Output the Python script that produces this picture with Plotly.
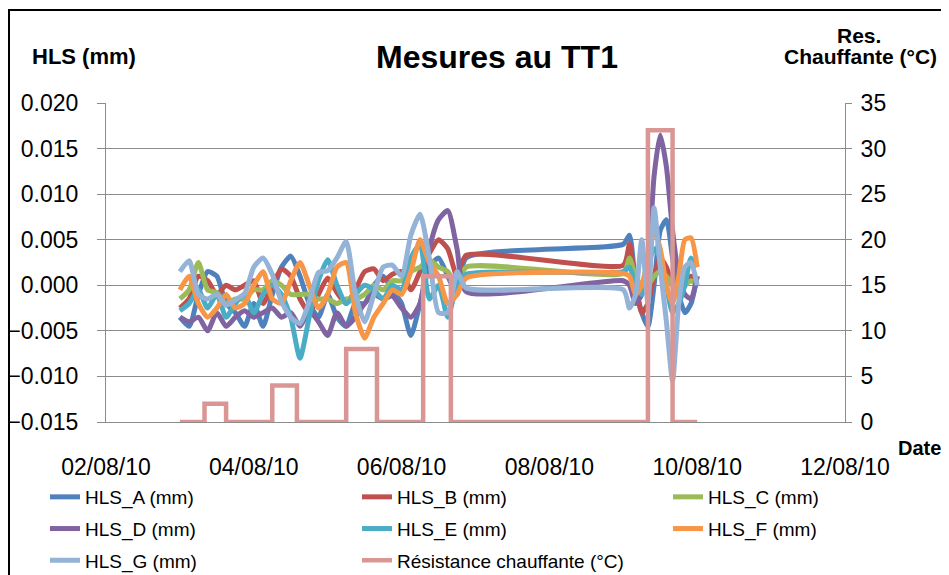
import pandas as pd
import plotly.graph_objects as go

# ---- time stamps (categories) ----
t_part1 = list(pd.date_range("2010-08-03 00:00", "2010-08-06 21:00", freq="3h"))
t_part2 = list(pd.date_range("2010-08-09 00:00", "2010-08-10 00:00", freq="2h"))
times = t_part1 + t_part2

# ---- HLS series (mm) ----
hls_a = [-0.0035, -0.0045, -0.001, 0.0015, 0.001, -0.002, -0.003, -0.0045, -0.002, -0.0045,
         -0.001, 0.002, 0.0032, 0.001, -0.002, -0.0035, -0.001, -0.0035, -0.0045, -0.002,
         -0.002, 0.0, 0.001, -0.0005, -0.002, -0.0055, -0.002, 0.002, 0.003, 0.001,
         -0.001, 0.003,
         0.0045, 0.0055, 0.0, -0.003, -0.0045, 0.0, 0.006, 0.0072, 0.003, -0.001,
         -0.003, -0.002, 0.001]
hls_b = [-0.0025, -0.0015, 0.001, 0.0005, -0.001, 0.0, -0.0005, 0.0, 0.0005, -0.002,
         0.0, 0.0018, 0.001, -0.0015, -0.003, -0.001, 0.0008, -0.0008, -0.002, -0.0005,
         0.0015, 0.0018, 0.0005, 0.0012, 0.0015, -0.0005, 0.0015, 0.0035, 0.005, 0.004,
         0.001, 0.0033,
         0.0022, 0.0045, 0.0, -0.003, -0.002, 0.001, 0.003, 0.002, 0.0, -0.001,
         0.0, 0.001, 0.0005]
hls_c = [-0.0015, -0.0005, 0.0025, -0.0005, -0.0008, -0.002, -0.0015, -0.0015, -0.0005, -0.0005,
         0.0005, 0.0, -0.001, -0.001, -0.001, -0.0015, -0.0015, -0.002, -0.0015, -0.0015,
         -0.001, 0.0, -0.0005, 0.0005, 0.0005, 0.0015, 0.002, 0.0028, 0.002, 0.0015,
         0.0, 0.002,
         0.0013, 0.003, 0.001, 0.0, 0.0, 0.001, 0.0015, 0.001, 0.0, -0.0005,
         0.0, 0.0005, 0.0]
hls_d = [-0.0035, -0.004, -0.0035, -0.005, -0.003, -0.0045, -0.0035, -0.0028, -0.0035, -0.003,
         -0.0025, -0.0035, -0.003, -0.0045, -0.0028, -0.004, -0.0055, -0.003, -0.0045, -0.0035,
         -0.002, -0.001, -0.0015, -0.0012, -0.0025, -0.0035, -0.002, 0.004, 0.0072, 0.0082,
         0.004, -0.0007,
         0.0005, 0.0, -0.002, -0.001, 0.002, 0.012, 0.0165, 0.013, 0.006, 0.001,
         -0.001, -0.0015, 0.001]
hls_e = [-0.0028, -0.002, -0.0005, -0.0025, -0.001, -0.0035, -0.002, -0.001, -0.003, -0.001,
         0.0, -0.001, -0.0035, -0.008, -0.0035, 0.0005, 0.0028, 0.0, -0.002, -0.001,
         0.0, -0.0005, -0.0015, 0.0, -0.0005, 0.003, 0.0045, -0.0015, 0.0, -0.0035,
         0.0, 0.0012,
         0.0015, 0.002, 0.0, -0.001, 0.002, 0.004, 0.003, 0.0, -0.003, -0.002,
         0.0, 0.003, 0.002]
hls_f = [-0.0005, 0.001, -0.002, -0.0035, -0.0025, -0.001, -0.0025, -0.002, 0.0, 0.0015,
         -0.0015, -0.002, 0.0005, 0.0025, 0.0, -0.0025, -0.001, 0.002, 0.0025, -0.003,
         -0.0058, -0.0035, -0.002, -0.0005, -0.001, 0.0015, 0.005, 0.0025, 0.001, -0.002,
         -0.001, 0.0008,
         0.0013, 0.001, -0.001, 0.0, 0.003, 0.006, 0.004, 0.0, -0.002, 0.001,
         0.005, 0.0052, 0.002]
hls_g = [0.0015, 0.0027, -0.001, -0.0015, -0.001, -0.0022, -0.0016, -0.0009, 0.002, 0.003,
         0.0012, -0.0018, -0.0035, -0.0042, -0.0018, 0.0014, 0.0016, 0.003, 0.0048, -0.001,
         -0.004, -0.001, 0.002, 0.0022, 0.001, 0.0055, 0.0078, 0.003, -0.003, -0.003,
         0.0015, -0.0003,
         -0.0005, -0.0025, -0.001, 0.005, -0.002, 0.0085, 0.002, -0.004, -0.0105, -0.002,
         0.002, 0.0025, 0.0]

# ---- heating resistance (°C), step profile ----
res_times = ["2010-08-03 00:00", "2010-08-03 08:00", "2010-08-03 08:00", "2010-08-03 15:00", "2010-08-03 15:00",
             "2010-08-04 06:00", "2010-08-04 06:00", "2010-08-04 14:00", "2010-08-04 14:00",
             "2010-08-05 06:00", "2010-08-05 06:00", "2010-08-05 16:00", "2010-08-05 16:00",
             "2010-08-06 07:00", "2010-08-06 07:00", "2010-08-06 16:00", "2010-08-06 16:00",
             "2010-08-09 08:00", "2010-08-09 08:00", "2010-08-09 16:00", "2010-08-09 16:00",
             "2010-08-10 00:00"]
res_values = [0, 0, 2, 2, 0,
              0, 4, 4, 0,
              0, 8, 8, 0,
              0, 16, 16, 0,
              0, 32, 32, 0,
              0]

# legend column assignment: col1 = A, D, G ; col2 = B, E, Res ; col3 = C, F
series = [
    ("HLS_A (mm)", hls_a, "#4F81BD", "legend"),
    ("HLS_B (mm)", hls_b, "#C0504D", "legend2"),
    ("HLS_C (mm)", hls_c, "#9BBB59", "legend3"),
    ("HLS_D (mm)", hls_d, "#8064A2", "legend"),
    ("HLS_E (mm)", hls_e, "#4BACC6", "legend2"),
    ("HLS_F (mm)", hls_f, "#F79646", "legend3"),
    ("HLS_G (mm)", hls_g, "#95B3D7", "legend"),
]

FONT = "Liberation Sans"
GRID = "#8c8c8c"

fig = go.Figure()
for name, vals, col, lg in series:
    fig.add_trace(go.Scatter(x=times, y=vals, name=name, mode="lines",
                             line=dict(color=col, width=5, shape="spline", smoothing=0.6),
                             legend=lg, legendgroup=name))
fig.add_trace(go.Scatter(x=res_times, y=res_values, name="Résistance chauffante (°C)",
                         mode="lines", line=dict(color="#D99694", width=4.5),
                         yaxis="y2", legend="legend2", legendgroup="res"))

# page body has an 8px margin: work in screen pixels and convert
OFF = 8
SL, SR, ST, SB = 106, 845, 103, 422   # plot area in screen pixels
L, T = SL - OFF, ST - OFF
R = 949 - (SR - OFF)
B = 575 - (SB - OFF)
PW, PH = SR - SL, SB - ST

def px(x):
    return (x - SL) / PW

def py(y):
    return (SB - y) / PH

legend_common = dict(orientation="v",
                     font=dict(family=FONT, size=19, color="#000"),
                     xanchor="left", yanchor="top", bgcolor="rgba(0,0,0,0)",
                     borderwidth=0, itemclick=False, tracegroupgap=4,
                     traceorder="grouped")

LEG_TOP = 478

fig.update_layout(
    width=949, height=575,
    margin=dict(l=L, r=R, t=T, b=B, autoexpand=False),
    paper_bgcolor="white", plot_bgcolor="white",
    font=dict(family=FONT, color="#000"),
    title=dict(text="<b>Mesures au TT1</b>", x=(497 - OFF) / 949, xref="container", xanchor="center",
               y=1 - (57 - OFF) / 575, yref="container", yanchor="middle",
               font=dict(family=FONT, size=32, color="#000")),
    xaxis=dict(type="date", range=["2010-08-02", "2010-08-12"], tick0="2010-08-02",
               dtick=2 * 86400000, tickformat="%d/%m/%y", showgrid=False, zeroline=False,
               showline=True, linecolor=GRID, linewidth=1, ticks="",
               ticklabelstandoff=24,
               tickfont=dict(family=FONT, size=23, color="#000")),
    yaxis=dict(range=[-0.015, 0.020], dtick=0.005, tick0=0, tickformat=".3f",
               showgrid=True, gridcolor=GRID, gridwidth=1, zeroline=False,
               showline=True, linecolor=GRID, linewidth=1,
               ticks="outside", ticklen=8, tickcolor=GRID, ticklabelstandoff=14,
               tickfont=dict(family=FONT, size=23, color="#000")),
    yaxis2=dict(range=[0, 35], dtick=5, tick0=0, overlaying="y", side="right",
                showgrid=False, zeroline=False, showline=True, linecolor=GRID, linewidth=1,
                ticks="outside", ticklen=6, tickcolor=GRID, ticklabelstandoff=4,
                tickfont=dict(family=FONT, size=23, color="#000")),
    legend=dict(x=px(45), y=py(LEG_TOP), **legend_common),
    legend2=dict(x=px(357), y=py(LEG_TOP), **legend_common),
    legend3=dict(x=px(668), y=py(LEG_TOP), **legend_common),
    annotations=[
        dict(text="<b>HLS (mm)</b>", x=px(84), y=py(56), xref="paper", yref="paper",
             showarrow=False, xanchor="center", yanchor="middle",
             font=dict(family=FONT, size=22, color="#000")),
        dict(text="<b>Res.</b>", x=px(859), y=py(35), xref="paper", yref="paper",
             showarrow=False, xanchor="center", yanchor="middle",
             font=dict(family=FONT, size=21, color="#000")),
        dict(text="<b>Chauffante (°C)</b>", x=px(861), y=py(57), xref="paper", yref="paper",
             showarrow=False, xanchor="center", yanchor="middle",
             font=dict(family=FONT, size=21, color="#000")),
        dict(text="<b>Date</b>", x=px(920), y=py(448), xref="paper", yref="paper",
             showarrow=False, xanchor="center", yanchor="middle",
             font=dict(family=FONT, size=20, color="#000")),
    ],
    shapes=[
        dict(type="rect", xref="paper", yref="paper", x0=px(9), x1=px(975), y0=py(600), y1=py(10),
             line=dict(color="#000", width=2), fillcolor="rgba(0,0,0,0)", layer="below"),
    ],
    showlegend=True,
)

fig.write_html("out.html")
